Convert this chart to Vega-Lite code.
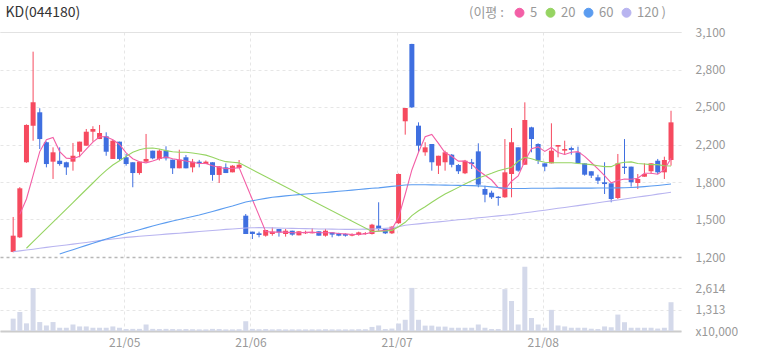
{
  "$schema": "https://vega.github.io/schema/vega-lite/v6.json",
  "padding": {"left": 0, "top": 5, "right": 0, "bottom": 0},
  "config": {"view": {"stroke": null}, "font": "Noto Sans CJK KR", "axis": {"labelOverlap": false}},
  "datasets": {
    "k": [
      {"i":0,"o":1243,"h":1538,"l":1240,"c":1380,"v":760,"ma5":null,"ma20":null,"ma60":null,"ma120":1245},
      {"i":1,"o":1366,"h":1790,"l":1360,"c":1780,"v":1170,"ma5":1560,"ma20":null,"ma60":null,"ma120":1252},
      {"i":2,"o":2000,"h":2320,"l":1995,"c":2315,"v":470,"ma5":1690,"ma20":1274,"ma60":null,"ma120":1259},
      {"i":3,"o":2309,"h":2934,"l":2182,"c":2506,"v":2650,"ma5":1890,"ma20":1330,"ma60":null,"ma120":1266},
      {"i":4,"o":2422,"h":2456,"l":2112,"c":2196,"v":550,"ma5":2090,"ma20":1385,"ma60":null,"ma120":1274},
      {"i":5,"o":2169,"h":2175,"l":1957,"c":1985,"v":340,"ma5":2190,"ma20":1440,"ma60":null,"ma120":1281},
      {"i":6,"o":2005,"h":2126,"l":1859,"c":2084,"v":550,"ma5":2210,"ma20":1494,"ma60":null,"ma120":1288},
      {"i":7,"o":2013,"h":2126,"l":1971,"c":1985,"v":200,"ma5":2090,"ma20":1549,"ma60":1226,"ma120":1295},
      {"i":8,"o":2000,"h":2005,"l":1893,"c":1957,"v":200,"ma5":2035,"ma20":1605,"ma60":1244,"ma120":1302},
      {"i":9,"o":2005,"h":2163,"l":1929,"c":2055,"v":400,"ma5":2030,"ma20":1660,"ma60":1262,"ma120":1309},
      {"i":10,"o":2089,"h":2174,"l":2042,"c":2174,"v":280,"ma5":2050,"ma20":1715,"ma60":1280,"ma120":1316},
      {"i":11,"o":2140,"h":2281,"l":2140,"c":2258,"v":280,"ma5":2110,"ma20":1770,"ma60":1298,"ma120":1323},
      {"i":12,"o":2258,"h":2304,"l":2174,"c":2281,"v":200,"ma5":2170,"ma20":1825,"ma60":1316,"ma120":1331},
      {"i":13,"o":2196,"h":2315,"l":2196,"c":2247,"v":200,"ma5":2215,"ma20":1881,"ma60":1334,"ma120":1338},
      {"i":14,"o":2219,"h":2253,"l":2055,"c":2089,"v":200,"ma5":2215,"ma20":1932,"ma60":1352,"ma120":1345},
      {"i":15,"o":2028,"h":2190,"l":2028,"c":2182,"v":280,"ma5":2190,"ma20":1977,"ma60":1368,"ma120":1352},
      {"i":16,"o":2174,"h":2174,"l":2013,"c":2028,"v":200,"ma5":2150,"ma20":2013,"ma60":1384,"ma120":1359},
      {"i":17,"o":2042,"h":2070,"l":1971,"c":1985,"v":130,"ma5":2080,"ma20":2050,"ma60":1400,"ma120":1366},
      {"i":18,"o":2000,"h":2000,"l":1789,"c":1909,"v":130,"ma5":2030,"ma20":2084,"ma60":1415,"ma120":1370},
      {"i":19,"o":1909,"h":2005,"l":1895,"c":2005,"v":130,"ma5":2005,"ma20":2106,"ma60":1430,"ma120":1375},
      {"i":20,"o":2005,"h":2239,"l":2000,"c":2028,"v":400,"ma5":1995,"ma20":2118,"ma60":1446,"ma120":1379},
      {"i":21,"o":2098,"h":2098,"l":2025,"c":2033,"v":130,"ma5":2010,"ma20":2120,"ma60":1462,"ma120":1384},
      {"i":22,"o":2028,"h":2110,"l":2015,"c":2098,"v":120,"ma5":2030,"ma20":2112,"ma60":1476,"ma120":1388},
      {"i":23,"o":2098,"h":2135,"l":2015,"c":2033,"v":130,"ma5":2045,"ma20":2098,"ma60":1490,"ma120":1393},
      {"i":24,"o":2022,"h":2022,"l":1901,"c":1949,"v":120,"ma5":2030,"ma20":2089,"ma60":1504,"ma120":1397},
      {"i":25,"o":1949,"h":2106,"l":1949,"c":2022,"v":110,"ma5":2020,"ma20":2084,"ma60":1517,"ma120":1401},
      {"i":26,"o":2042,"h":2061,"l":1949,"c":1949,"v":120,"ma5":2010,"ma20":2084,"ma60":1530,"ma120":1406},
      {"i":27,"o":1957,"h":2028,"l":1915,"c":2005,"v":110,"ma5":2000,"ma20":2078,"ma60":1542,"ma120":1410},
      {"i":28,"o":2005,"h":2020,"l":1957,"c":1990,"v":100,"ma5":1990,"ma20":2070,"ma60":1555,"ma120":1415},
      {"i":29,"o":1985,"h":2015,"l":1985,"c":2005,"v":100,"ma5":1990,"ma20":2060,"ma60":1570,"ma120":1419},
      {"i":30,"o":2000,"h":2000,"l":1844,"c":1893,"v":130,"ma5":1970,"ma20":2042,"ma60":1585,"ma120":1424},
      {"i":31,"o":1893,"h":1966,"l":1825,"c":1966,"v":120,"ma5":1958,"ma20":2022,"ma60":1600,"ma120":1428},
      {"i":32,"o":1957,"h":1990,"l":1909,"c":1909,"v":100,"ma5":1945,"ma20":2005,"ma60":1616,"ma120":1433},
      {"i":33,"o":1915,"h":1975,"l":1915,"c":1971,"v":100,"ma5":1948,"ma20":2000,"ma60":1631,"ma120":1437},
      {"i":34,"o":1952,"h":2019,"l":1952,"c":1979,"v":110,"ma5":1955,"ma20":1995,"ma60":1648,"ma120":1441},
      {"i":35,"o":1549,"h":1563,"l":1394,"c":1394,"v":600,"ma5":null,"ma20":null,"ma60":1665,"ma120":1445},
      {"i":36,"o":1414,"h":1414,"l":1352,"c":1394,"v":130,"ma5":null,"ma20":null,"ma60":1675,"ma120":1447},
      {"i":37,"o":1400,"h":1414,"l":1366,"c":1386,"v":110,"ma5":null,"ma20":null,"ma60":1685,"ma120":1448},
      {"i":38,"o":1380,"h":1428,"l":1372,"c":1428,"v":120,"ma5":1415,"ma20":null,"ma60":1695,"ma120":1447},
      {"i":39,"o":1394,"h":1451,"l":1380,"c":1414,"v":100,"ma5":1410,"ma20":null,"ma60":1704,"ma120":1446},
      {"i":40,"o":1437,"h":1437,"l":1372,"c":1408,"v":110,"ma5":1410,"ma20":null,"ma60":1710,"ma120":1445},
      {"i":41,"o":1394,"h":1437,"l":1372,"c":1422,"v":100,"ma5":1410,"ma20":null,"ma60":1716,"ma120":1443},
      {"i":42,"o":1422,"h":1422,"l":1380,"c":1389,"v":100,"ma5":1405,"ma20":null,"ma60":1722,"ma120":1442},
      {"i":43,"o":1383,"h":1417,"l":1383,"c":1417,"v":100,"ma5":1405,"ma20":null,"ma60":1727,"ma120":1441},
      {"i":44,"o":1400,"h":1422,"l":1394,"c":1410,"v":100,"ma5":1408,"ma20":null,"ma60":1732,"ma120":1440},
      {"i":45,"o":1400,"h":1445,"l":1400,"c":1410,"v":100,"ma5":1410,"ma20":null,"ma60":1736,"ma120":1438},
      {"i":46,"o":1417,"h":1417,"l":1380,"c":1380,"v":100,"ma5":1405,"ma20":null,"ma60":1741,"ma120":1437},
      {"i":47,"o":1380,"h":1437,"l":1372,"c":1422,"v":110,"ma5":1405,"ma20":null,"ma60":1745,"ma120":1436},
      {"i":48,"o":1408,"h":1408,"l":1366,"c":1389,"v":100,"ma5":1405,"ma20":null,"ma60":1750,"ma120":1435},
      {"i":49,"o":1400,"h":1405,"l":1375,"c":1380,"v":100,"ma5":1398,"ma20":null,"ma60":1755,"ma120":1434},
      {"i":50,"o":1394,"h":1400,"l":1372,"c":1380,"v":100,"ma5":1395,"ma20":null,"ma60":1760,"ma120":1433},
      {"i":51,"o":1380,"h":1400,"l":1375,"c":1394,"v":100,"ma5":1390,"ma20":null,"ma60":1765,"ma120":1433},
      {"i":52,"o":1386,"h":1414,"l":1380,"c":1408,"v":110,"ma5":1392,"ma20":null,"ma60":1770,"ma120":1434},
      {"i":53,"o":1394,"h":1410,"l":1388,"c":1402,"v":110,"ma5":1395,"ma20":null,"ma60":1775,"ma120":1435},
      {"i":54,"o":1394,"h":1480,"l":1390,"c":1473,"v":250,"ma5":1410,"ma20":1415,"ma60":1780,"ma120":1437},
      {"i":55,"o":1465,"h":1662,"l":1422,"c":1437,"v":340,"ma5":1420,"ma20":1418,"ma60":1784,"ma120":1439},
      {"i":56,"o":1437,"h":1442,"l":1394,"c":1400,"v":120,"ma5":1425,"ma20":1420,"ma60":1790,"ma120":1442},
      {"i":57,"o":1400,"h":1460,"l":1394,"c":1456,"v":150,"ma5":1435,"ma20":1425,"ma60":1796,"ma120":1446},
      {"i":58,"o":1485,"h":1905,"l":1480,"c":1901,"v":460,"ma5":1535,"ma20":1456,"ma60":1802,"ma120":1456},
      {"i":59,"o":2346,"h":2458,"l":2233,"c":2458,"v":690,"ma5":1730,"ma20":1493,"ma60":1808,"ma120":1468},
      {"i":60,"o":2999,"h":3000,"l":2458,"c":2464,"v":2650,"ma5":1935,"ma20":1549,"ma60":1810,"ma120":1474},
      {"i":61,"o":2309,"h":2337,"l":2084,"c":2140,"v":690,"ma5":2085,"ma20":1591,"ma60":1810,"ma120":1480},
      {"i":62,"o":2084,"h":2169,"l":2055,"c":2126,"v":330,"ma5":2215,"ma20":1625,"ma60":1810,"ma120":1486},
      {"i":63,"o":2154,"h":2154,"l":1929,"c":2000,"v":330,"ma5":2235,"ma20":1662,"ma60":1809,"ma120":1491},
      {"i":64,"o":1971,"h":2055,"l":1901,"c":2055,"v":270,"ma5":2160,"ma20":1698,"ma60":1808,"ma120":1497},
      {"i":65,"o":2000,"h":2098,"l":1929,"c":2084,"v":270,"ma5":2080,"ma20":1732,"ma60":1807,"ma120":1502},
      {"i":66,"o":2064,"h":2070,"l":1957,"c":1979,"v":200,"ma5":2050,"ma20":1760,"ma60":1806,"ma120":1508},
      {"i":67,"o":1977,"h":1985,"l":1901,"c":1924,"v":200,"ma5":2010,"ma20":1788,"ma60":1805,"ma120":1514},
      {"i":68,"o":1907,"h":2020,"l":1900,"c":2013,"v":200,"ma5":2010,"ma20":1816,"ma60":1804,"ma120":1519},
      {"i":69,"o":2000,"h":2028,"l":1943,"c":1985,"v":200,"ma5":1985,"ma20":1844,"ma60":1803,"ma120":1525},
      {"i":70,"o":2092,"h":2160,"l":1789,"c":1811,"v":400,"ma5":1930,"ma20":1867,"ma60":1801,"ma120":1531},
      {"i":71,"o":1774,"h":1802,"l":1662,"c":1726,"v":200,"ma5":1890,"ma20":1887,"ma60":1797,"ma120":1536},
      {"i":72,"o":1743,"h":1760,"l":1690,"c":1704,"v":120,"ma5":1850,"ma20":1907,"ma60":1792,"ma120":1542},
      {"i":73,"o":1709,"h":1715,"l":1633,"c":1698,"v":120,"ma5":1785,"ma20":1929,"ma60":1787,"ma120":1547},
      {"i":74,"o":1704,"h":2196,"l":1700,"c":1915,"v":2570,"ma5":1770,"ma20":1943,"ma60":1782,"ma120":1553},
      {"i":75,"o":1901,"h":2289,"l":1704,"c":2169,"v":1850,"ma5":1840,"ma20":1957,"ma60":1778,"ma120":1558},
      {"i":76,"o":2126,"h":2126,"l":1920,"c":1929,"v":400,"ma5":1885,"ma20":2008,"ma60":1778,"ma120":1565},
      {"i":77,"o":1979,"h":2506,"l":1979,"c":2357,"v":3950,"ma5":2010,"ma20":2042,"ma60":1779,"ma120":1573},
      {"i":78,"o":2295,"h":2300,"l":2084,"c":2196,"v":800,"ma5":2115,"ma20":2030,"ma60":1780,"ma120":1580},
      {"i":79,"o":2154,"h":2160,"l":1985,"c":2013,"v":400,"ma5":2130,"ma20":2013,"ma60":1780,"ma120":1588},
      {"i":80,"o":1991,"h":1991,"l":1924,"c":1963,"v":200,"ma5":2092,"ma20":2000,"ma60":1781,"ma120":1595},
      {"i":81,"o":1991,"h":2329,"l":1991,"c":2098,"v":1300,"ma5":2125,"ma20":1996,"ma60":1781,"ma120":1603},
      {"i":82,"o":2132,"h":2146,"l":2042,"c":2146,"v":340,"ma5":2083,"ma20":1996,"ma60":1782,"ma120":1611},
      {"i":83,"o":2098,"h":2182,"l":2064,"c":2112,"v":280,"ma5":2066,"ma20":1996,"ma60":1782,"ma120":1618},
      {"i":84,"o":2120,"h":2132,"l":2064,"c":2104,"v":200,"ma5":2085,"ma20":1996,"ma60":1782,"ma120":1626},
      {"i":85,"o":2084,"h":2132,"l":1985,"c":1991,"v":200,"ma5":2090,"ma20":1990,"ma60":1782,"ma120":1634},
      {"i":86,"o":1991,"h":1991,"l":1887,"c":1895,"v":200,"ma5":2050,"ma20":1985,"ma60":1782,"ma120":1642},
      {"i":87,"o":1924,"h":1924,"l":1867,"c":1887,"v":140,"ma5":1998,"ma20":1980,"ma60":1782,"ma120":1650},
      {"i":88,"o":1873,"h":1895,"l":1816,"c":1844,"v":120,"ma5":1944,"ma20":1971,"ma60":1783,"ma120":1658},
      {"i":89,"o":1831,"h":2000,"l":1732,"c":1816,"v":280,"ma5":1887,"ma20":1963,"ma60":1783,"ma120":1666},
      {"i":90,"o":1822,"h":1822,"l":1662,"c":1690,"v":230,"ma5":1826,"ma20":1963,"ma60":1783,"ma120":1674},
      {"i":91,"o":1698,"h":2070,"l":1690,"c":1991,"v":1010,"ma5":1846,"ma20":1990,"ma60":1784,"ma120":1682},
      {"i":92,"o":1963,"h":2196,"l":1901,"c":1952,"v":540,"ma5":1859,"ma20":2000,"ma60":1785,"ma120":1690},
      {"i":93,"o":1963,"h":1963,"l":1794,"c":1831,"v":200,"ma5":1856,"ma20":2003,"ma60":1787,"ma120":1698},
      {"i":94,"o":1825,"h":1901,"l":1774,"c":1859,"v":200,"ma5":1865,"ma20":1990,"ma60":1790,"ma120":1706},
      {"i":95,"o":1878,"h":1991,"l":1878,"c":1901,"v":200,"ma5":1907,"ma20":1985,"ma60":1794,"ma120":1714},
      {"i":96,"o":1924,"h":1991,"l":1901,"c":1991,"v":200,"ma5":1907,"ma20":1980,"ma60":1799,"ma120":1722},
      {"i":97,"o":2013,"h":2028,"l":1901,"c":1915,"v":150,"ma5":1899,"ma20":1980,"ma60":1804,"ma120":1731},
      {"i":98,"o":1915,"h":2047,"l":1859,"c":2019,"v":200,"ma5":1937,"ma20":1971,"ma60":1810,"ma120":1739},
      {"i":99,"o":2019,"h":2435,"l":1971,"c":2337,"v":1770,"ma5":2033,"ma20":1968,"ma60":1816,"ma120":1747}
    ]
  },
  "spacing": 0,
  "vconcat": [
    {
      "width": 681,
      "height": 225,
      "data": {"name": "k"},
      "layer": [
        {
          "mark": {"type": "rule", "strokeWidth": 1},
          "encoding": {
            "x": {"field": "i", "type": "quantitative", "scale": {"domain": [-1.23, 99.75], "nice": false, "zero": false},
              "axis": {"orient": "top", "values": [16.7, 35.7, 57.7, 79.7], "tickCount": 10, "labels": false, "ticks": false, "domain": true, "domainColor": "#e2e2e2", "domainWidth": 1, "grid": true, "gridDash": [3, 3], "gridColor": "#e6e6e6",
                "title": "KD(044180)", "titleX": 5, "titleY": -20, "titleAlign": "left", "titleBaseline": "middle", "titleAngle": 0, "titleFontSize": 14, "titleFontWeight": "normal", "titleColor": "#333333", "titleFont": "Noto Sans CJK KR"}},
            "y": {"field": "l", "type": "quantitative", "scale": {"domain": [1200, 3100], "nice": false, "zero": false},
              "axis": {"orient": "right", "values": [1200, 1516.67, 1833.33, 2150, 2466.67, 2783.33, 3100], "tickCount": 10, "title": null, "domain": false, "ticks": false, "labelPadding": 14, "labelColor": "#999999", "labelFontSize": 12, "labelOverlap": false, "labelFlush": false, "labelBound": false,
                "labelExpr": "datum.value < 1300 ? '1,200' : datum.value < 1600 ? '1,500' : datum.value < 1900 ? '1,800' : datum.value < 2200 ? '2,200' : datum.value < 2500 ? '2,500' : datum.value < 2900 ? '2,800' : '3,100'",
                "gridColor": {"condition": {"test": "datum.value < 1300", "value": "#b8b8b8"}, "value": "#e6e6e6"},
                "gridDash": {"condition": {"test": "datum.value > 3000", "value": []}, "value": [3, 3]},
                "gridWidth": {"condition": {"test": "datum.value < 1300", "value": 1.5}, "value": 1}}},
            "y2": {"field": "h"},
            "color": {"condition": {"test": "datum.c >= datum.o", "value": "#f64a5f"}, "value": "#3f6fe0"}
          }
        },
        {
          "mark": {"type": "bar", "width": 5},
          "encoding": {
            "x": {"field": "i", "type": "quantitative"},
            "y": {"field": "o", "type": "quantitative"},
            "y2": {"field": "c"},
            "color": {"condition": {"test": "datum.c >= datum.o", "value": "#f64a5f"}, "value": "#3f6fe0"}
          }
        },
        {
          "transform": [
            {"fold": ["ma5", "ma20", "ma60", "ma120"], "as": ["ma", "val"]},
            {"filter": "datum.val != null"}
          ],
          "mark": {"type": "line", "strokeWidth": 1.1},
          "encoding": {
            "x": {"field": "i", "type": "quantitative"},
            "y": {"field": "val", "type": "quantitative"},
            "color": {"field": "ma", "type": "nominal",
              "scale": {"domain": ["ma5", "ma20", "ma60", "ma120"], "range": ["#f35fa6", "#96d462", "#5b9cf0", "#b8b4f0"]},
              "legend": {"orient": "none", "legendX": 469, "legendY": -26, "direction": "horizontal", "title": "(이평 :", "titleOrient": "left", "titleFontSize": 13, "titleFontWeight": "normal", "titleColor": "#999999", "titlePadding": 9, "titleBaseline": "middle",
                "labelFontSize": 13, "labelColor": "#999999", "labelOffset": 4, "columnPadding": 6, "symbolType": "circle", "symbolSize": 80, "symbolStrokeWidth": 1, "symbolOpacity": 1,
                "labelExpr": "replace(datum.label, 'ma', '') + (datum.label == 'ma120' ? ' )' : '')",
                "encode": {"symbols": {"update": {"fill": {"scale": "color", "field": "value"}, "fillOpacity": {"value": 1}}}}}}
          }
        }
      ]
    },
    {
      "width": 681,
      "height": 68,
      "data": {"name": "k"},
      "mark": {"type": "bar", "width": 5, "color": "#d4d9ea"},
      "encoding": {
        "x": {"field": "i", "type": "quantitative", "scale": {"domain": [-1.23, 99.75], "nice": false, "zero": false},
          "axis": {"values": [16.7, 35.7, 57.7, 79.7], "tickCount": 10, "title": null, "ticks": false, "domain": true, "domainColor": "#cccccc", "domainWidth": 2, "grid": true, "gridDash": [3, 3], "gridColor": "#e6e6e6", "labelColor": "#999999", "labelFontSize": 12, "labelPadding": 6,
            "labelExpr": "datum.value < 20 ? '21/05' : datum.value < 40 ? '21/06' : datum.value < 60 ? '21/07' : '21/08'"}},
        "y": {"field": "v", "type": "quantitative", "scale": {"domain": [0, 4180], "nice": false, "zero": true},
          "axis": {"orient": "right", "values": [0, 1313, 2614], "tickCount": 10, "title": null, "domain": false, "ticks": false, "labelPadding": 14, "labelColor": "#999999", "labelFontSize": 12, "labelOverlap": false, "labelFlush": false, "labelBound": false, "grid": true, "gridDash": [3, 3], "gridColor": "#e6e6e6",
            "labelExpr": "datum.value == 0 ? 'x10,000' : format(datum.value, ',')"}}
      }
    }
  ]
}
